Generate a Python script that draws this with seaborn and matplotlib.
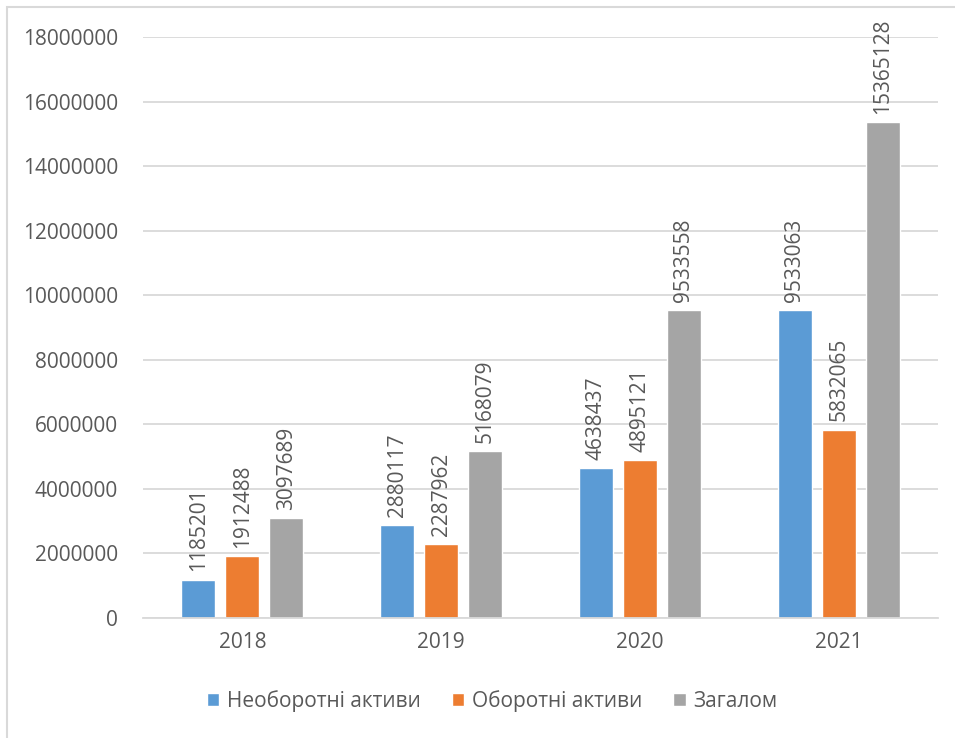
import matplotlib
matplotlib.use("Agg")
import matplotlib.pyplot as plt
from matplotlib.patches import Rectangle
import seaborn as sns
import pandas as pd

years = ["2018", "2019", "2020", "2021"]
series_names = ["Необоротні активи", "Оборотні активи", "Загалом"]
non_current = [1185201, 2880117, 4638437, 9533063]
current = [1912488, 2287962, 4895121, 5832065]
total = [3097689, 5168079, 9533558, 15365128]
colors = ["#5B9BD5", "#ED7D31", "#A5A5A5"]
y_ticks = [0, 2000000, 4000000, 6000000, 8000000, 10000000,
           12000000, 14000000, 16000000, 18000000]

df = pd.DataFrame({
    "year": years * 3,
    "series": [s for s in series_names for _ in years],
    "value": non_current + current + total,
})

sns.set_theme(style="white")
plt.rcParams["font.family"] = ["Open Sans", "DejaVu Sans"]
text_color = "#595959"
grid_color = "#D9D9D9"

fig = plt.figure(figsize=(9.55, 7.38), dpi=100)
ax = fig.add_axes([143 / 955, 1 - 618 / 738, (938 - 143) / 955, (618 - 37) / 738])

sns.barplot(data=df, x="year", y="value", hue="series", order=years,
            hue_order=series_names, palette=colors, width=0.664, gap=0.23,
            saturation=1, ax=ax, zorder=3, legend=True)

for container in ax.containers:
    ax.bar_label(container, labels=[f"{int(v)}" for v in container.datavalues],
                 rotation=90, padding=6, fontsize=15, color=text_color)

ax.set_ylim(0, 18000000)
ax.set_yticks(y_ticks)
ax.set_yticklabels([str(t) for t in y_ticks])
ax.set_xlabel("")
ax.set_ylabel("")
ax.yaxis.grid(True, color=grid_color, linewidth=1.3, zorder=0)
ax.set_axisbelow(True)
for side in ["top", "right", "left"]:
    ax.spines[side].set_visible(False)
ax.spines["bottom"].set_color(grid_color)
ax.spines["bottom"].set_linewidth(1.3)
ax.spines["bottom"].set_zorder(4)
ax.tick_params(axis="both", length=0, labelsize=15, colors=text_color)
ax.tick_params(axis="y", pad=18)
ax.tick_params(axis="x", pad=10)

handles, labels = ax.get_legend_handles_labels()
ax.legend_.remove()
fig.legend(handles, labels, loc="center", bbox_to_anchor=(492 / 955, 1 - 701 / 738),
           ncol=3, frameon=False, fontsize=15, labelcolor=text_color,
           handlelength=0.6, handleheight=0.6, handletextpad=0.35,
           columnspacing=1.5)

fig.patches.append(Rectangle((7 / 955, -0.05), 1.1, 1 - 7 / 738 + 0.05,
                             transform=fig.transFigure, fill=False,
                             edgecolor=grid_color, linewidth=1.5))

fig.savefig("out.png", dpi=100)
